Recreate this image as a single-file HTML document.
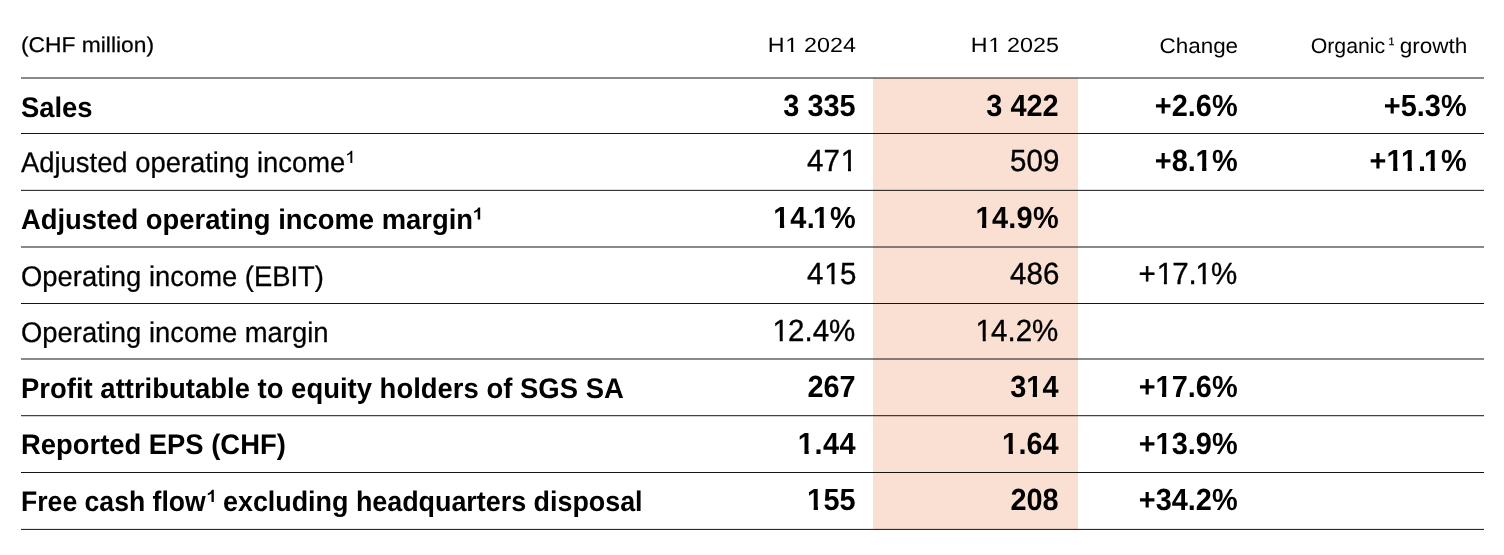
<!DOCTYPE html>
<html>
<head>
<meta charset="utf-8">
<style>
*{margin:0;padding:0;box-sizing:border-box}
html,body{width:1504px;height:555px;background:#fff;overflow:hidden}
body{position:relative;font-family:"Liberation Sans",sans-serif;color:#000;text-rendering:geometricPrecision}
#wrap{position:absolute;left:0;top:0;width:1504px;height:555px;will-change:transform}
.shade{position:absolute;left:873px;top:78px;width:205px;height:451px;background:#fae0d2}
svg.lines{position:absolute;left:0;top:0}
.row{position:absolute;left:0;width:1504px;height:0;white-space:nowrap}
.row>span{position:absolute;line-height:0;margin-top:calc(-0.3465em + 0.4px)}
.l{left:21px;font-size:27.4px;-webkit-text-stroke:0.25px #000;transform:translateY(var(--d,1px)) scaleY(1.035);transform-origin:0 0.3465em}
.n{font-size:29.5px;transform:translate(0.8px,1px) scaleY(1.04);transform-origin:100% 0.3465em;-webkit-text-stroke:0.35px #000}
.b .n,.n.b{font-size:28.9px;transform:translate(0.1px,1px) scaleY(1.062);-webkit-text-stroke:0}
.c1{right:648.5px}
.c2{right:445.5px}
.c3{right:266.5px}
.c4{right:37.5px}
.b{font-weight:bold}
.b .l{-webkit-text-stroke:0}
.hd .h{font-size:20.6px;transform:translate(var(--dx,0px),var(--dy,0px)) scaleX(var(--sx,1.12));transform-origin:100% 0.3465em}
.hd .t{font-size:21.3px;--dy:0.7px;--dx:0.5px}
.hd .h sup{font-size:50%;top:-0.8em;margin:0 -0.08em 0 0.3em;-webkit-text-stroke:0.25px #000}
.o{display:inline-block;line-height:0;position:relative;left:0.03em;clip-path:polygon(-1em -2em,2em -2em,2em var(--fy),0.346em var(--fy),0.346em 1em,0.246em 1em,0.246em var(--fy),-1em var(--fy));--fy:0.19em}
.b .o,.b.n .o{left:-0.01em;clip-path:polygon(-1em -2em,2em -2em,2em var(--fy),0.376em var(--fy),0.376em 1em,0.228em 1em,0.228em var(--fy),-1em var(--fy));--fy:0.196em}
.o+.o{margin-left:-0.074em}
sup{font-size:58%;vertical-align:baseline;position:relative;top:-0.5em;line-height:0;font-weight:normal}
</style>
</head>
<body>
<div id="wrap">
<div class="shade"></div>
<svg class="lines" width="1504" height="555" viewBox="0 0 1504 555">
<g fill="#151515">
<rect x="21" y="77.5" width="1463" height="1"/>
<rect x="21" y="133" width="1463" height="1"/>
<rect x="21" y="189.85" width="1463" height="1"/>
<rect x="21" y="246.5" width="1463" height="1"/>
<rect x="21" y="303" width="1463" height="1"/>
<rect x="21" y="358.5" width="1463" height="1"/>
<rect x="21" y="415.2" width="1463" height="1"/>
<rect x="21" y="472" width="1463" height="1"/>
<rect x="21" y="528.9" width="1463" height="1"/>
</g>
</svg>

<svg class="lines" width="1504" height="555" viewBox="0 0 1504 555">
<path transform="translate(347.1,150.8)" d="M5.2 0V12.1H3.3V2.9C2.5 3.7 1.3 4.4 0 4.8V3.2C1.6 2.6 3.2 1.4 3.9 0Z"/>
<path transform="translate(474.2,207.4)" d="M6 0V12.2H3.5V3.9C2.6 4.7 1.4 5.3 0 5.7V3.5C1.8 2.9 3.4 1.7 4.1 0Z"/>
<path transform="translate(207.8,489.8)" d="M6 0V12.1H3.7V3.7C2.8 4.5 1.5 5.1 0 5.5V3.5C1.8 2.9 3.5 1.7 4.2 0Z"/>
</svg>
<div class="row hd" style="top:52.4px"><span class="l" style="font-size:21.4px;transform:translateY(-0.4px) scaleX(1.066)">(CHF million)</span><span class="h c1" style="--sx:1.13">H<span class="o">1</span> 2024</span><span class="h c2" style="--sx:1.13">H<span class="o">1</span> 2025</span><span class="h t c3" style="--sx:1.054">Change</span><span class="h t" style="right:111px;--sx:1.0">Organic<sup>1</sup></span><span class="h t c4" style="--sx:1.06">growth</span></div>
<div class="row b" style="top:116px;--d:1px"><span class="l">Sales</span><span class="n c1">3 335</span><span class="n c2">3 422</span><span class="n c3">+2.6%</span><span class="n c4">+5.3%</span></div>
<div class="row" style="top:171px;--d:1px"><span class="l">Adjusted operating income</span><span class="n c1">47<span class="o">1</span></span><span class="n c2">509</span><span class="n c3 b">+8.<span class="o">1</span>%</span><span class="n c4 b" style="letter-spacing:0.5px;margin-right:-0.5px">+<span class="o">1</span><span class="o">1</span>.<span class="o">1</span>%</span></div>
<div class="row b" style="top:228px;--d:1px"><span class="l">Adjusted operating income margin</span><span class="n c1" style="letter-spacing:0.55px;margin-right:-0.55px"><span class="o">1</span>4.<span class="o">1</span>%</span><span class="n c2" style="letter-spacing:0.25px;margin-right:-0.25px"><span class="o">1</span>4.9%</span></div>
<div class="row" style="top:284px;--d:2px"><span class="l">Operating income (EBIT)</span><span class="n c1">4<span class="o">1</span>5</span><span class="n c2">486</span><span style="margin-right:1px" class="n c3">+<span class="o">1</span>7.<span class="o">1</span>%</span></div>
<div class="row" style="top:341px;--d:1px"><span class="l">Operating income margin</span><span style="margin-right:1px" class="n c1"><span class="o">1</span>2.4%</span><span style="margin-right:1px" class="n c2"><span class="o">1</span>4.2%</span></div>
<div class="row b" style="top:397px;--d:1px"><span class="l" style="font-size:27.47px">Profit attributable to equity holders of SGS SA</span><span class="n c1">267</span><span class="n c2">3<span class="o">1</span>4</span><span class="n c3">+<span class="o">1</span>7.6%</span></div>
<div class="row b" style="top:454px;--d:0px"><span class="l">Reported EPS (CHF)</span><span class="n c1" style="letter-spacing:0.4px;margin-right:-0.4px"><span class="o">1</span>.44</span><span class="n c2"><span class="o">1</span>.64</span><span class="n c3">+<span class="o">1</span>3.9%</span></div>
<div class="row b" style="top:510px;--d:1px"><span class="l" style="transform:translateY(var(--d)) scale(0.971,1.035)">Free cash flow</span><span class="l" style="left:223.1px;transform:translateY(var(--d)) scale(0.981,1.035)">excluding headquarters disposal</span><span class="n c1"><span class="o">1</span>55</span><span class="n c2">208</span><span class="n c3">+34.2%</span></div>
</div>
</body>
</html>
